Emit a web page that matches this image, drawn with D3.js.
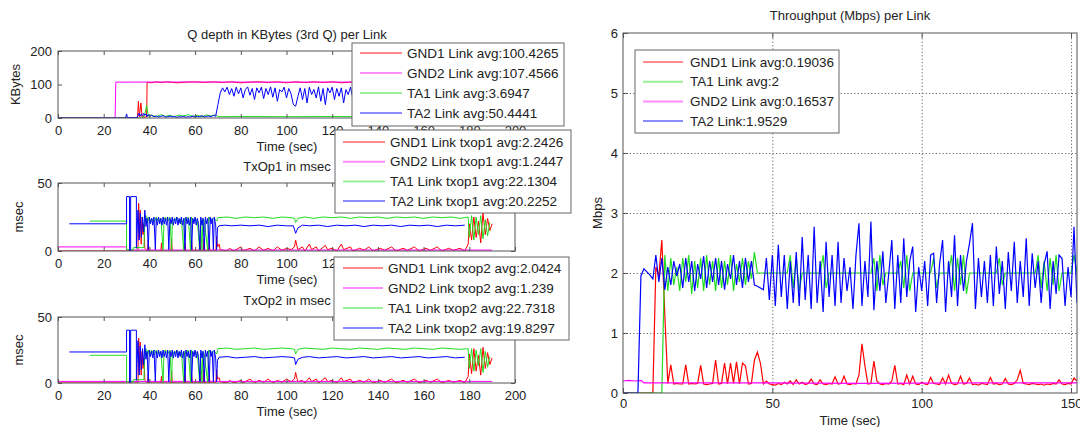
<!DOCTYPE html>
<html>
<head>
<meta charset="utf-8">
<script src="https://cdn.jsdelivr.net/npm/d3@7"></script>
<style>
  body { margin: 0; background: #fff; }
  svg { display: block; font-family: "Liberation Sans", Arial, sans-serif; }
</style>
</head>
<body>
<svg id="chart" width="1080" height="427"></svg>
<script>
// ---------------- data ----------------
let leftTicks = [0, 20, 40, 60, 80, 100, 120, 140, 160, 180, 200]
let qTicks = [0, 100, 200]
let txTicks = [0, 50]
let tpXTicks = [0, 50, 100, 150]
let tpYTicks = [0, 1, 2, 3, 4, 5, 6]

// Q depth (KBytes), [time, value]
let qGnd1 = [[0,0],[34.8,0],[35.2,50],[35.6,4],[36.3,45],[36.8,3],[38.8,3],[39,107],[41,105],[43,108],[45,106],[48,108],[52,105],[56,107],[60,108],[64,106],[68,108],[72,106],[76,108],[80,105],[84,107],[88,108],[92,106],[96,108],[100,105],[104,108],[108,106],[112,108],[116,106],[120,108],[124,105],[128,107],[132,108],[136,106],[140,108],[150,106],[160,108],[170,106],[180,107],[190,106]]
let qGnd2 = [[0,0],[25,0],[25.3,107],[60,107.5],[100,107],[140,107.5],[190,107]]
let qTa1 = [[0,0],[37,0],[38,12],[38.8,38],[39.5,5],[41,8],[43,4],[45,10],[47,5],[49,8],[51,4],[53,9],[55,6],[57,10],[59,5],[61,8],[63,4],[65,9],[67,6],[69,10],[70,4],[80,4.5],[100,4],[120,4.5],[140,4],[160,4.5],[180,4],[190,4]]
let qTa2Head = [[0,0],[29.6,0],[30,12],[30.4,1],[34.5,1],[35,8],[35.5,14],[36,5],[36.5,12],[37,6],[37.5,14],[38,8],[38.5,12],[39,4],[39.5,10],[40,5],[41,8],[42,4],[43,6],[44,3],[45,5],[46,7],[47,3],[48,4],[49,6],[50,3],[51,5],[52,2],[53,4],[54,3],[55,5],[56,2],[57,4],[58,3],[59,6],[60,3],[61,5],[62,4],[63,7],[64,3],[65,5],[66,6],[67,4],[68,8],[69,5]]
// one sample per second from t = 70
let qTa2Tail = [40,75,90,78,92,70,88,65,92,72,90,60,85,93,68,88,55,90,75,92,58,88,70,93,62,90,50,85,78,92,
  60,88,72,40,35,65,90,55,88,45,92,70,85,60,93,50,88,40,90,75,92,55,88,65,90,45,85,70,92,60,
  88,72,90,55,86,68,92,50,88,74,90,58,87,65,92,48,88,70,91,60,86,75,92,52,88,66,90,57,87,72,
  92,55,85,70,90,48,88,68,92,60,86,74,90,56,88,65,91,50,87,70,60,30,15,5,2,0]
let qTa2 = qTa2Head.concat(qTa2Tail.map((v, i) => [70 + i, v]))

// TxOp1 (msec)
let t1Gnd1 = [[0,0],[35,0],[35.3,35],[35.6,10],[36,30],[36.4,5],[36.8,25],[37.2,12],[37.6,20],[38,2],[39.2,0],[39.5,8],[39.8,0],[45,0],[45.3,6],[45.6,0],[49.4,0],[49.7,9],[50,0],[55.3,0],[55.6,6],[55.9,0],[58.2,0],[58.5,7],[58.8,0],[61.8,0],[62.1,10],[62.4,0],[63.6,0],[63.9,9],[64.2,0],[65.9,0],[66.2,7],[66.5,0],[69.1,0],[69.4,11],[69.8,3],[70.5,5],[71,1],[74,0],[75,2],[77,0],[80,3],[81,0],[84,2],[86,0],[88,3],[90,0.5],[92,2],[94,0],[96,3],[98,0.5],[100,2],[102,1],[103.5,3],[104,8],[104.5,4],[105,1],[107,3],[108,0],[110,5],[111,1],[113,3],[114,0],[117,4],[118,1],[120,2],[122,0],[124,5],[125,1],[128,3],[129,0],[132,2],[134,0.5],[136,3],[138,0],[141,2],[143,0.5],[146,3],[148,0],[151,2],[153,0.5],[156,3],[158,0],[161,2],[163,0.5],[166,3],[168,0],[171,2],[173,0.5],[176,2],[178,0],[179.5,5],[180,20],[181,8],[182,25],[183,10],[184,22],[185,6],[186,28],[187,12],[188,24],[189,15],[190,20]]
let t1Gnd2 = [[0,3],[30,3],[30,0.7],[190,0.7]]
let t1Ta1 = [[14,22],[30,22],[30,1],[33,1],[33,2.5],[37.6,2.5],[38,22],[38.5,26],[39,20],[39.5,25],[40,21],[41,24],[42,21],[43,25],[44,22],[45,24],[46,0.5],[46.4,23],[47,25],[48,22],[49,25],[49.7,0.5],[50.1,24],[51,22],[52,25],[53,21],[54,24],[55,0.5],[55.4,24],[56,22],[57,25],[58,0.5],[58.4,25],[59,22],[60,24],[61,22],[62,0.5],[62.4,23],[63,0.5],[63.4,24],[64,22],[65.5,0.5],[65.9,25],[67,22],[68,24],[69,23],[69.5,22],[70,24.5],[74,25],[78,24],[82,25],[86,24.5],[90,25],[94,24],[98,25],[102,24.5],[103.5,24],[104,21],[105,24],[108,25],[112,24],[116,25],[120,24.5],[124,25],[128,24],[132,25],[136,24.5],[140,25],[144,24],[148,25],[152,24.5],[156,25],[160,24],[164,25],[168,24.5],[172,25],[176,24],[179.5,25],[180,10],[181,26],[182,8],[183,25],[184,12],[185,26],[186,9],[187,23],[188,11],[189,21]]
let t1Ta2 = [[5,20],[30,20],[30,40],[31.3,40],[31.3,0],[31.8,0],[31.8,40],[34.3,40],[34.3,2],[35,30],[35.5,8],[36,28],[36.5,10],[37,25],[37.5,14],[38,30],[38.5,18],[39,24],[39.5,1],[40,25],[40.5,20],[41,24],[41.5,19],[42,25],[42.6,1],[43,24],[43.5,19],[44,25],[44.5,20],[45,24],[45.5,19],[46,25],[46.5,20],[47,24],[47.5,19],[48,25],[48.5,1],[49,24],[49.5,20],[50,25],[50.5,19],[51,24],[51.5,20],[52,25],[52.5,19],[53,24],[53.5,20],[54,25],[54.5,19],[55,24],[55.6,1],[56,25],[56.5,20],[57,24],[57.5,19],[58,25],[58.5,1],[59,24],[59.5,20],[60,25],[60.5,19],[61,24],[61.5,20],[62.1,1],[62.5,25],[63,19],[63.5,24],[64,1],[64.5,25],[65,20],[65.5,24],[66.2,1],[66.6,25],[67,20],[67.5,24],[68,1],[68.4,25],[69,19],[69.4,1],[69.8,17],[70.5,18.5],[73,19],[76,18.5],[80,19],[84,18.5],[88,19],[92,18],[96,19],[100,18.5],[103,18.5],[104,13],[105,17],[107,19],[110,18.5],[114,19],[118,18],[122,19],[126,18.5],[130,19],[134,18],[138,19],[142,18.5],[146,19],[150,18],[154,19],[158,18.5],[162,19],[166,18],[170,19],[174,18.5],[178,19]]

// TxOp2 (msec)
let t2Gnd1 = [[0,0],[35,0],[35.3,34],[35.6,9],[36,31],[36.4,6],[36.8,24],[37.2,11],[37.6,19],[38,2],[39.2,0],[39.5,7],[39.8,0],[45,0],[45.3,5],[45.6,0],[49.4,0],[49.7,9],[50,0],[55.3,0],[55.6,7],[55.9,0],[58.2,0],[58.5,6],[58.8,0],[61.8,0],[62.1,9],[62.4,0],[63.6,0],[63.9,10],[64.2,0],[65.9,0],[66.2,6],[66.5,0],[69.1,0],[69.4,10],[69.8,3],[70.5,4],[71,1],[74,0],[75,2],[77,0],[80,2],[81,0],[84,3],[86,0],[88,2],[90,0.5],[92,3],[94,0],[96,2],[98,0.5],[100,3],[102,1],[103.5,3],[104,8],[104.5,4],[105,1],[107,2],[108,0],[110,4],[111,1],[113,3],[114,0],[117,4],[118,1],[120,2],[122,0],[124,4],[125,1],[128,3],[129,0],[132,2],[134,0.5],[136,3],[138,0],[141,2],[143,0.5],[146,3],[148,0],[151,2],[153,0.5],[156,3],[158,0],[161,2],[163,0.5],[166,3],[168,0],[171,2],[173,0.5],[176,2],[178,0],[179.5,5],[180,22],[181,7],[182,26],[183,9],[184,21],[185,6],[186,27],[187,11],[188,23],[189,14],[190,19]]
let t2Gnd2 = [[0,1.2],[190,1.2]]
let t2Ta1 = [[14,21],[30,21],[30,1],[33,1],[33,2.5],[37.6,2.5],[38,23],[38.5,26],[39,20],[39.5,25],[40,21],[41,25],[42,21],[43,25],[44,22],[45,24],[46,0.5],[46.4,24],[47,25],[48,22],[49,25],[49.7,0.5],[50.1,24],[51,22],[52,25],[53,21],[54,24],[55,0.5],[55.4,24],[56,22],[57,25],[58,0.5],[58.4,25],[59,22],[60,24],[61,22],[62,0.5],[62.4,23],[63,0.5],[63.4,24],[64,22],[65.5,0.5],[65.9,25],[67,22],[68,24],[69,23],[69.5,22],[70,26],[74,26.5],[78,25.5],[82,26],[86,26.5],[90,25.5],[94,26],[98,26.5],[102,26],[103.5,25.5],[104,22],[105,25.5],[108,26.5],[112,26],[116,25.5],[120,26.5],[124,26],[128,25.5],[132,26.5],[136,26],[140,25.5],[144,26.5],[148,26],[152,25.5],[156,26.5],[160,26],[164,25.5],[168,26.5],[172,26],[176,25.5],[179.5,26],[180,11],[181,26],[182,9],[183,25],[184,13],[185,26],[186,8],[187,24],[188,12],[189,20]]
let t2Ta2 = [[5,23.5],[30,23.5],[30,40],[31.3,40],[31.3,0],[31.8,0],[31.8,40],[34.3,40],[34.3,2],[35,32],[35.5,6],[36,28],[36.5,10],[37,26],[37.5,14],[38,29],[38.5,18],[39,24],[39.5,1],[40,25],[40.5,20],[41,24],[41.5,19],[42,25],[42.6,1],[43,24],[43.5,19],[44,25],[44.5,20],[45,24],[45.5,19],[46,25],[46.5,20],[47,24],[47.5,19],[48,25],[48.5,1],[49,24],[49.5,20],[50,25],[50.5,19],[51,24],[51.5,20],[52,25],[52.5,19],[53,24],[53.5,20],[54,25],[54.5,19],[55,24],[55.6,1],[56,25],[56.5,20],[57,24],[57.5,19],[58,25],[58.5,1],[59,24],[59.5,20],[60,25],[60.5,19],[61,24],[61.5,20],[62.1,1],[62.5,25],[63,19],[63.5,24],[64,1],[64.5,25],[65,20],[65.5,24],[66.2,1],[66.6,25],[67,20],[67.5,24],[68,1],[68.4,25],[69,19],[69.4,1],[69.8,17],[70.5,19.5],[74,20],[78,19],[82,19.5],[86,20],[90,19],[94,19.5],[98,20],[102,19.5],[103.5,19],[104,14],[105,18],[107,19.5],[110,20],[114,19],[118,19.5],[122,20],[126,19],[130,19.5],[134,20],[138,19],[142,19.5],[146,20],[150,19],[154,19.5],[158,20],[162,19],[166,19.5],[170,20],[174,19],[178,19.5]]

// Throughput (Mbps), one sample per second from t = 0
let tpGnd1 = [0,0,0,0,0,0,0,0,0,0,
  0,2.1,1.95,2.55,1.3,0.16,0.47,0.15,0.16,0.15,
  0.15,0.47,0.15,0.16,0.15,0.16,0.46,0.15,0.14,0.15,
  0.16,0.55,0.15,0.16,0.5,0.15,0.5,0.16,0.52,0.15,
  0.5,0.45,0.15,0.16,0.55,0.68,0.5,0.15,0.2,0.15,
  0.14,0.13,0.16,0.14,0.18,0.15,0.2,0.14,0.22,0.15,
  0.18,0.14,0.16,0.23,0.15,0.14,0.22,0.15,0.14,0.16,
  0.15,0.27,0.15,0.16,0.28,0.15,0.14,0.16,0.15,0.3,
  0.82,0.45,0.15,0.16,0.53,0.2,0.15,0.14,0.16,0.15,
  0.2,0.46,0.15,0.16,0.14,0.3,0.15,0.28,0.15,0.14,
  0.18,0.15,0.14,0.26,0.16,0.15,0.14,0.25,0.15,0.3,
  0.16,0.14,0.15,0.28,0.15,0.16,0.25,0.14,0.15,0.13,
  0.16,0.15,0.14,0.26,0.15,0.16,0.14,0.15,0.24,0.15,
  0.14,0.16,0.22,0.38,0.16,0.15,0.14,0.16,0.15,0.14,
  0.15,0.13,0.15,0.14,0.16,0.15,0.22,0.15,0.14,0.16,
  0.15,0.25,0.2]
let tpTa1 = [0,0,0,0,0,0,0,0,0,0,0,0,0,0,
  2.3,1.7,2.25,1.8,2.1,1.7,2.25,1.85,2.3,1.65,
  2.2,1.75,2.25,1.7,2.3,1.8,2.2,1.7,2.25,1.75,
  2.2,1.8,2.3,1.7,2.15,1.85,2.25,1.8,2.2,1.9,
  2.35,2.0,2.0,
  2,2,2,2,2,2,2,2,2,2.3,1.75,2.25,1.7,2,
  2,2,2,2,2,2,2.3,1.75,2,2,2,2,2,2,2,
  2,2,2,2,2,2,2,2,2.25,1.7,2.3,1.8,2,2,2,
  2,2,2.2,1.75,2.3,1.7,2,2,2,2,2,2,2,2.25,1.75,
  2,2,2,2,2.3,1.7,2.25,1.8,2.3,1.65,2,2,2,2,2,
  2,2,2,2,2,2.25,1.8,2,2,2,2,2,2,2,2,
  2,2,2,2.3,1.75,2.2,1.7,2.25,1.8,2.3,1.7,2,2,2,2,2.3,2]
let tpGnd2 = [[0,0.2],[2,0.21],[4,0.2],[6,0.21],[7,0.17],[40,0.17],[80,0.16],[120,0.17],[152,0.17]]
let tpTa2 = [0,0,0,0,0,0,
  1.95,2.07,2.02,1.97,1.9,
  2.3,1.85,2.25,1.72,2.1,
  1.8,2.2,1.95,2.15,1.75,
  2.25,1.85,2.2,1.7,2.15,
  1.9,2.28,1.75,2.2,1.85,
  2.25,1.8,2.2,1.72,2.15,
  1.9,2.3,1.8,2.2,1.75,
  2.25,1.85,2.2,1.8,1.78,
  1.75,1.72,2.25,1.55,2.3,
  1.45,2.47,1.6,2.3,1.4,
  2.2,1.5,2.35,1.45,2.6,
  1.55,2.3,1.4,2.77,1.5,
  2.2,1.35,2.52,1.6,2.3,
  1.45,2.52,1.5,2.25,1.7,
  2.1,1.4,2.3,2.83,1.45,
  2.2,1.6,2.86,1.38,2.2,
  1.7,2.36,1.5,2.0,2.55,
  1.4,2.3,1.5,2.58,1.6,
  2.2,2.44,1.35,2.1,1.7,
  2.2,1.45,2.3,2.33,1.5,
  2.15,2.55,1.35,2.2,1.6,
  2.63,1.45,2.3,1.7,2.2,
  2.49,2.83,1.4,2.25,1.6,
  2.2,1.5,2.3,1.45,2.44,
  1.65,2.2,1.4,2.35,1.7,
  2.52,1.5,2.2,1.6,2.58,
  1.45,2.33,1.75,2.2,1.5,
  2.15,2.36,1.4,2.2,1.65,
  2.3,2.24,1.45,2.1,1.6,
  2.77,1.5]

let qLegend = ['GND1 Link avg:100.4265', 'GND2 Link avg:107.4566', 'TA1 Link avg:3.6947', 'TA2 Link avg:50.4441']
let t1Legend = ['GND1 Link txop1 avg:2.2426', 'GND2 Link txop1 avg:1.2447', 'TA1 Link txop1 avg:22.1304', 'TA2 Link txop1 avg:20.2252']
let t2Legend = ['GND1 Link txop2 avg:2.0424', 'GND2 Link txop2 avg:1.239', 'TA1 Link txop2 avg:22.7318', 'TA2 Link txop2 avg:19.8297']
let tpLegend = ['GND1 Link avg:0.19036', 'TA1 Link avg:2', 'GND2 Link avg:0.16537', 'TA2 Link:1.9529']

// ---------------- drawing ----------------
let RED = '#ff0000', MAG = '#ff00ff', GREEN = '#22dd22', BLUE = '#0000ff'
let TXT = '#222', AX = '#555'
let svg = d3.select('#chart')

let styleAxis = (g) => {
  g.select('.domain').remove()
  g.selectAll('line').attr('stroke', AX)
  g.selectAll('text').attr('fill', TXT).attr('font-size', 13)
  g.attr('font-family', null)
}

let addText = (x, y, txt, rot) => {
  let t = svg.append('text').attr('x', x).attr('y', y).attr('fill', TXT).attr('font-size', 13)
    .attr('text-anchor', 'middle').attr('dominant-baseline', 'central').text(txt)
  if (rot) t.attr('transform', `rotate(-90,${x},${y})`)
}

// left panels
let xL = d3.scaleLinear().domain([0, 200]).range([58, 515])
let panels = [
  { title: 'Q depth in KBytes (3rd Q) per Link', ylab: 'KBytes', labX: 15, yMax: 200, yTicks: qTicks, top: 51, bot: 118, series: [qGnd1, qGnd2, qTa1, qTa2] },
  { title: 'TxOp1 in msec', ylab: 'msec', labX: 18, yMax: 50, yTicks: txTicks, top: 183, bot: 251, series: [t1Gnd1, t1Gnd2, t1Ta1, t1Ta2] },
  { title: 'TxOp2 in msec', ylab: 'msec', labX: 18, yMax: 50, yTicks: txTicks, top: 317, bot: 383, series: [t2Gnd1, t2Gnd2, t2Ta1, t2Ta2] }
]
let leftColors = [RED, MAG, GREEN, BLUE]

panels.forEach((p, i) => {
  let y = d3.scaleLinear().domain([0, p.yMax]).range([p.bot, p.top])
  svg.append('clipPath').attr('id', 'clipL' + i).append('rect')
    .attr('x', 58).attr('y', p.top).attr('width', 457).attr('height', p.bot - p.top)
  let line = d3.line().x(d => xL(d[0])).y(d => y(d[1]))
  let g = svg.append('g').attr('clip-path', `url(#clipL${i})`)
  p.series.forEach((s, k) => {
    g.append('path').attr('d', line(s)).attr('fill', 'none')
      .attr('stroke', leftColors[k]).attr('stroke-width', 1)
  })
  svg.append('g').attr('transform', `translate(0,${p.bot})`)
    .call(d3.axisBottom(xL).tickValues(leftTicks).tickSize(-4).tickPadding(8)).call(styleAxis)
  svg.append('g').attr('transform', `translate(0,${p.top})`)
    .call(d3.axisTop(xL).tickValues(leftTicks).tickSize(-4).tickFormat('')).call(styleAxis)
  svg.append('g').attr('transform', 'translate(58,0)')
    .call(d3.axisLeft(y).tickValues(p.yTicks).tickSize(-4).tickPadding(6)).call(styleAxis)
  svg.append('g').attr('transform', 'translate(515,0)')
    .call(d3.axisRight(y).tickValues(p.yTicks).tickSize(-4).tickFormat('')).call(styleAxis)
  svg.append('rect').attr('x', 58).attr('y', p.top).attr('width', 457).attr('height', p.bot - p.top)
    .attr('fill', 'none').attr('stroke', AX).attr('stroke-width', 1)
  addText(287, p.top - 17, p.title)
  addText(287, p.bot + 28, 'Time (sec)')
  addText(p.labX, (p.top + p.bot) / 2, p.ylab, true)
})

// right panel
let xR = d3.scaleLinear().domain([0, 152]).range([623, 1077])
let yR = d3.scaleLinear().domain([0, 6]).range([393, 33])
svg.append('clipPath').attr('id', 'clipR').append('rect')
  .attr('x', 623).attr('y', 33).attr('width', 454).attr('height', 360)

let grid = svg.append('g')
grid.append('g').attr('transform', 'translate(623,0)')
  .call(d3.axisLeft(yR).tickValues([1, 2, 3, 4, 5]).tickSize(-454).tickFormat(''))
grid.append('g').attr('transform', 'translate(0,393)')
  .call(d3.axisBottom(xR).tickValues([50, 100, 150]).tickSize(-360).tickFormat(''))
grid.selectAll('.domain').remove()
grid.selectAll('line').attr('stroke', '#666').attr('stroke-dasharray', '1.2,2.2').attr('stroke-width', 1)

let lineR = d3.line().x(d => xR(d[0])).y(d => yR(d[1]))
let tpSeries = [
  [tpGnd1.map((v, i) => [i, v]), RED],
  [tpTa1.map((v, i) => [i, v]), GREEN],
  [tpGnd2, MAG],
  [tpTa2.map((v, i) => [i, v]), BLUE]
]
let gR = svg.append('g').attr('clip-path', 'url(#clipR)')
tpSeries.forEach(s => {
  gR.append('path').attr('d', lineR(s[0])).attr('fill', 'none')
    .attr('stroke', s[1]).attr('stroke-width', 1.2)
})

svg.append('g').attr('transform', 'translate(0,393)')
  .call(d3.axisBottom(xR).tickValues(tpXTicks).tickSize(-5).tickPadding(6)).call(styleAxis)
svg.append('g').attr('transform', 'translate(0,33)')
  .call(d3.axisTop(xR).tickValues(tpXTicks).tickSize(-5).tickFormat('')).call(styleAxis)
svg.append('g').attr('transform', 'translate(623,0)')
  .call(d3.axisLeft(yR).tickValues(tpYTicks).tickSize(-5).tickPadding(5).tickFormat(d3.format('d'))).call(styleAxis)
svg.append('rect').attr('x', 623).attr('y', 33).attr('width', 454).attr('height', 360)
  .attr('fill', 'none').attr('stroke', AX).attr('stroke-width', 1)
addText(850, 15, 'Throughput (Mbps) per Link')
addText(850, 420, 'Time (sec)')
addText(597, 213, 'Mbps', true)

// legends
let drawLegend = (box, rows, colors, rowY, gap, lx0, lx1, tx) => {
  svg.append('rect').attr('x', box[0]).attr('y', box[1]).attr('width', box[2]).attr('height', box[3])
    .attr('fill', '#fff').attr('stroke', '#666').attr('stroke-width', 1)
  rows.forEach((r, i) => {
    let yy = rowY + i * gap
    svg.append('line').attr('x1', lx0).attr('x2', lx1).attr('y1', yy).attr('y2', yy)
      .attr('stroke', colors[i]).attr('stroke-width', 2).attr('stroke-opacity', 0.45)
    svg.append('text').attr('x', tx).attr('y', yy).attr('dominant-baseline', 'central')
      .attr('fill', TXT).attr('font-size', 13.5).text(r)
  })
}
drawLegend([352, 43, 212, 83], qLegend, leftColors, 53, 20, 360, 402, 407)
drawLegend([335, 130, 236, 83], t1Legend, leftColors, 142, 19.7, 343, 385, 390)
drawLegend([334, 257, 235, 83], t2Legend, leftColors, 268, 20, 343, 383, 388)
drawLegend([635, 50, 204, 83], tpLegend, [RED, GREEN, MAG, BLUE], 62, 19.7, 643, 683, 690)
</script>
</body>
</html>
